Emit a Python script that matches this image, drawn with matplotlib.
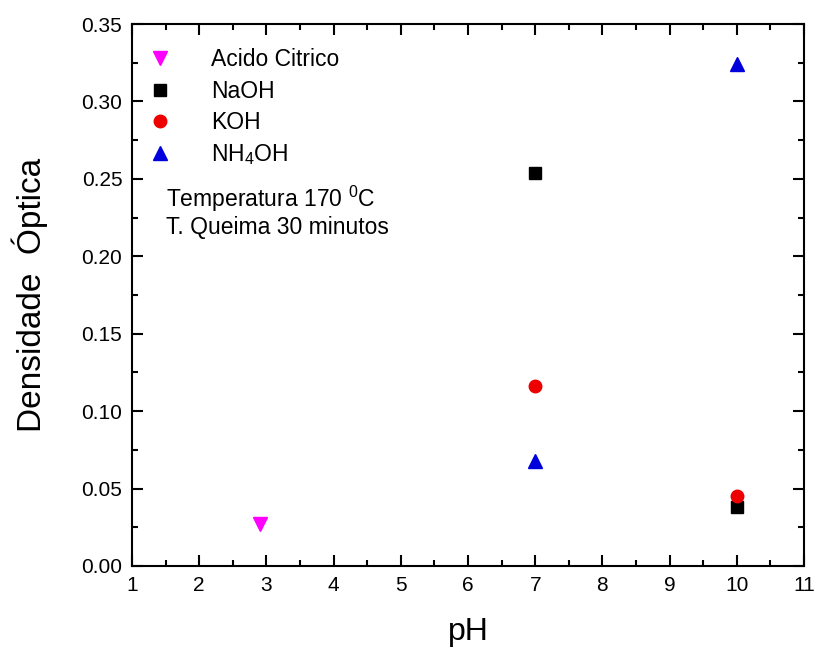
import numpy as np
import matplotlib
matplotlib.use("Agg")
import matplotlib.pyplot as plt
from matplotlib.ticker import MultipleLocator

plt.rcParams["font.family"] = ["Liberation Sans", "DejaVu Sans"]
plt.rcParams["mathtext.fontset"] = "custom"
plt.rcParams["mathtext.rm"] = "Liberation Sans"
plt.rcParams["mathtext.it"] = "Liberation Sans"

# data
acido_ph = [2.9]
acido_do = [0.027]
naoh_ph = [7, 10]
naoh_do = [0.254, 0.038]
koh_ph = [7, 10]
koh_do = [0.116, 0.045]
nh4oh_ph = [7, 10]
nh4oh_do = [0.068, 0.324]

fig = plt.figure(figsize=(8.16, 6.49), dpi=100)
ax = fig.add_axes([0.1618, 0.1279, 0.8235, 0.8351])

ax.plot(acido_ph, acido_do, "v", color="#ff00ff", ms=10, label="Acido Citrico", ls="none")
ax.plot(naoh_ph, naoh_do, "s", color="black", ms=8, label="NaOH", ls="none")
ax.plot(koh_ph, koh_do, "o", color="#ee0000", ms=9, label="KOH", ls="none")
ax.plot(nh4oh_ph, nh4oh_do, "^", color="#0000dd", ms=10, label=r"NH$_4$OH", ls="none")

ax.set_xlim(1, 11)
ax.set_ylim(0, 0.35)
ax.xaxis.set_major_locator(MultipleLocator(1))
ax.xaxis.set_minor_locator(MultipleLocator(0.5))
ax.yaxis.set_major_locator(MultipleLocator(0.05))
ax.yaxis.set_minor_locator(MultipleLocator(0.025))
ax.yaxis.set_major_formatter(plt.FormatStrFormatter("%.2f"))
ax.tick_params(which="both", direction="in", top=True, right=True, width=1.5)
ax.tick_params(which="major", length=8, labelsize=15, pad=7)
ax.tick_params(which="minor", length=4.5)
for s in ax.spines.values():
    s.set_linewidth(1.5)

ax.set_xlabel("pH", fontsize=23, labelpad=16)
ax.set_ylabel("Densidade  Óptica", fontsize=24, labelpad=24)

ax.legend(loc="upper left", frameon=False, fontsize=16.5, handlelength=1.0,
          handletextpad=1.7, labelspacing=0.36, borderpad=0, borderaxespad=0,
          bbox_to_anchor=(0.025, 0.955))
ax.text(0.051, 0.677, r"Temperatura 170 $^{0}$C", transform=ax.transAxes,
        fontsize=16.5, va="center")
ax.text(0.051, 0.624, "T. Queima 30 minutos", transform=ax.transAxes,
        fontsize=16.5, va="center")

fig.savefig("out.png", dpi=100)
